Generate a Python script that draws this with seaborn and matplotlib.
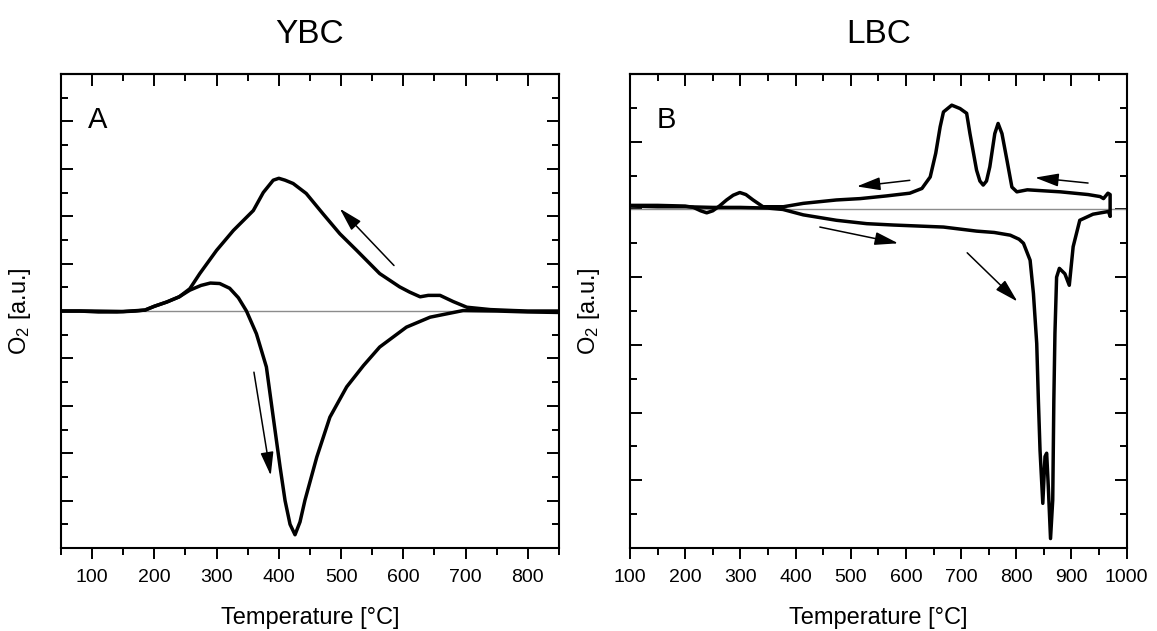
import numpy as np
import pandas as pd
import matplotlib
matplotlib.use("Agg")
import matplotlib.pyplot as plt
from matplotlib.ticker import MultipleLocator
import seaborn as sns

# ==========================================
# Data
# ==========================================
# Panel A (YBC): heating branch (down arrow) and cooling branch (up arrow)
ybc_heat_T = [50, 80, 110, 140, 170, 185, 200, 220, 240, 257, 275, 290, 305, 321, 335, 348,
              364, 380, 391, 402, 410, 418, 426, 434, 442, 461, 482, 509, 536, 562, 605, 643,
              696, 750, 800, 850]
ybc_heat_y = [0.0, 0.0, -0.02, -0.02, 0.0, 0.02, 0.1, 0.19, 0.3, 0.44, 0.54, 0.59, 0.58, 0.48, 0.28, 0.0,
              -0.48, -1.18, -2.24, -3.29, -4.0, -4.5, -4.72, -4.45, -3.99, -3.08, -2.24, -1.6, -1.15, -0.76, -0.34, -0.13,
              0.01, 0.0, -0.02, -0.03]

ybc_cool_T = [850, 800, 777, 740, 702, 680, 659, 640, 627, 610, 594, 562, 525, 498, 471, 444,
              423, 410, 400, 391, 375, 359, 327, 300, 273, 257, 240, 220, 200, 185, 150, 100, 50]
ybc_cool_y = [0.0, 0.0, 0.01, 0.03, 0.08, 0.2, 0.33, 0.33, 0.30, 0.4, 0.51, 0.79, 1.28, 1.63, 2.05, 2.48,
              2.69, 2.76, 2.8, 2.76, 2.5, 2.12, 1.70, 1.28, 0.79, 0.47, 0.30, 0.19, 0.1, 0.02, -0.01, 0.0, 0.0]

# Panel B (LBC)
lbc_heat_T = [100, 150, 200, 250, 300, 350, 377, 414, 474, 529, 577, 668, 728, 760, 789, 805,
              813, 825, 831, 837, 840, 843, 848, 852, 855, 858, 862, 866, 868, 870, 873, 878,
              888, 896, 903, 915, 939, 967, 970]
lbc_heat_y = [0.05, 0.04, 0.04, 0.03, 0.03, 0.02, 0.0, -0.08, -0.16, -0.21, -0.23, -0.26, -0.32, -0.34, -0.38, -0.44,
              -0.50, -0.75, -1.24, -1.98, -2.82, -3.56, -4.34, -3.65, -3.6, -4.1, -4.86, -4.29, -2.82, -1.83, -1.0, -0.87,
              -0.95, -1.12, -0.55, -0.16, -0.07, -0.03, -0.1]

lbc_cool_T = [970, 970, 966, 958, 952, 930, 880, 840, 820, 801, 792, 783, 774, 767, 761, 752,
              746, 740, 734, 728, 716, 710, 698, 683, 668, 662, 654, 644, 629, 607, 565, 517,
              474, 414, 378, 341, 323, 310, 299, 287, 275, 262, 250, 239, 228, 215, 200, 150, 100]
lbc_cool_y = [-0.1, 0.22, 0.24, 0.16, 0.19, 0.22, 0.26, 0.28, 0.29, 0.26, 0.33, 0.73, 1.12, 1.27, 1.12, 0.63,
              0.42, 0.36, 0.42, 0.58, 1.12, 1.42, 1.49, 1.54, 1.44, 1.22, 0.83, 0.48, 0.31, 0.24, 0.20, 0.16,
              0.14, 0.09, 0.04, 0.04, 0.14, 0.22, 0.25, 0.21, 0.14, 0.05, -0.02, -0.05, -0.02, 0.03, 0.05, 0.06, 0.06]

# arrows: (tail T, tail y, head T, head y)
ybc_arrows = [(360, -1.29, 387, -3.47), (585, 0.96, 498, 2.16)]
lbc_arrows = [(930, 0.39, 834, 0.47), (607, 0.43, 511, 0.34),
              (444, -0.26, 586, -0.50), (711, -0.64, 802, -1.36)]

# ==========================================
# Style
# ==========================================
sns.set_theme(style="ticks")
plt.rcParams['font.family'] = ['Liberation Sans', 'DejaVu Sans']
plt.rcParams['mathtext.fontset'] = 'custom'
plt.rcParams['mathtext.rm'] = 'Liberation Sans'
plt.rcParams['mathtext.it'] = 'Liberation Sans:italic'
for key in ['text.color', 'axes.labelcolor', 'xtick.color', 'ytick.color', 'axes.edgecolor']:
    plt.rcParams[key] = 'black'

fig = plt.figure(figsize=(11.57, 6.31), dpi=100)
axA = fig.add_axes([0.0527, 0.1315, 0.4304, 0.7512])
axB = fig.add_axes([0.5445, 0.1315, 0.4293, 0.7512])


def draw_panel(ax, heat_T, heat_y, cool_T, cool_y, arrows, xlim, ylim, letter, title):
    ax.axhline(0, color='#8c8c8c', lw=1.0, zorder=1)
    heat = pd.DataFrame({'T': heat_T, 'y': heat_y})
    cool = pd.DataFrame({'T': cool_T, 'y': cool_y})
    sns.lineplot(data=heat, x='T', y='y', ax=ax, sort=False, estimator=None, color='black', lw=2.5)
    sns.lineplot(data=cool, x='T', y='y', ax=ax, sort=False, estimator=None, color='black', lw=2.5)
    for t0, y0, t1, y1 in arrows:
        ax.annotate('', xy=(t1, y1), xytext=(t0, y0),
                    arrowprops=dict(arrowstyle='-|>,head_length=0.9,head_width=0.25',
                                    color='black', lw=1.1, mutation_scale=16, shrinkA=0, shrinkB=0))
    ax.set_xlim(*xlim)
    ax.set_ylim(*ylim)
    ax.xaxis.set_major_locator(MultipleLocator(100))
    ax.xaxis.set_minor_locator(MultipleLocator(50))
    ax.yaxis.set_major_locator(MultipleLocator(1))
    ax.yaxis.set_minor_locator(MultipleLocator(0.5))
    ax.tick_params(axis='x', which='both', direction='out', bottom=True, top=False,
                   labelsize=14, width=1.4, pad=7)
    ax.tick_params(axis='x', which='major', length=8)
    ax.tick_params(axis='x', which='minor', length=5)
    ax.tick_params(axis='y', which='both', direction='in', left=True, right=True,
                   labelleft=False, width=1.4)
    ax.tick_params(axis='y', which='major', length=8.5)
    ax.tick_params(axis='y', which='minor', length=5)
    sec = ax.secondary_xaxis('top')
    sec.xaxis.set_major_locator(MultipleLocator(100))
    sec.xaxis.set_minor_locator(MultipleLocator(50))
    sec.tick_params(which='both', direction='in', labeltop=False, width=1.4)
    sec.tick_params(which='major', length=8.5)
    sec.tick_params(which='minor', length=5)
    sec.spines['top'].set_linewidth(1.5)
    for s in ax.spines.values():
        s.set_linewidth(1.5)
        s.set_color('black')
    ax.set_xlabel('Temperature [°C]', fontsize=17, labelpad=15)
    ax.set_ylabel('O$_2$ [a.u.]', fontsize=17, labelpad=20)
    ax.text(0.054, 0.886, letter, transform=ax.transAxes, fontsize=21, ha='left', va='baseline')
    ax.set_title(title, fontsize=24, pad=22)


draw_panel(axA, ybc_heat_T, ybc_heat_y, ybc_cool_T, ybc_cool_y, ybc_arrows,
           (50, 850), (-5, 5), 'A', 'YBC')
draw_panel(axB, lbc_heat_T, lbc_heat_y, lbc_cool_T, lbc_cool_y, lbc_arrows,
           (100, 1000), (-5, 2), 'B', 'LBC')

fig.savefig('out.png', dpi=100)
